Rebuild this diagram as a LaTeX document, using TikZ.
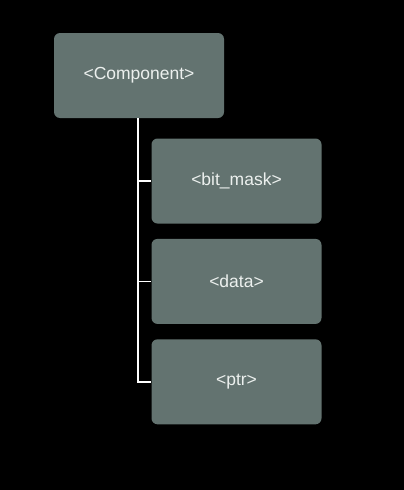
\documentclass[tikz,border=0pt]{standalone}
\usepackage{fontspec}
\setmainfont{Liberation Sans}
\usepackage{tikz}
\usetikzlibrary{positioning}

\begin{document}
\begin{tikzpicture}[x=1pt, y=-1pt,
    box/.style={fill={rgb,255:red,99;green,115;blue,112}, rounded corners=6pt,
      minimum width=170pt, minimum height=85pt, inner sep=0pt,
      text={rgb,255:red,236;green,240;blue,238}, font=\fontsize{17.5}{19}\selectfont},
    link/.style={draw=white, line width=1.5pt},
    node distance=15pt]
        % Background
        \fill[black] (0,0) rectangle (404,490);
        \useasboundingbox (0,0) rectangle (404,490);

        % Parent
        \node[box] (comp) at (139,75.5) {<Component>};

        % Fields
        \node[box] (bitmask) at (236.5,181) {<bit\_mask>};
        \node[box, below=of bitmask] (data) {<data>};
        \node[box, below=of data] (ptr) {<ptr>};

        % Tree lines
        \draw[link] ([xshift=-1pt]comp.south) |- (ptr.west);
        \draw[link] ([xshift=-1pt]comp.south |- bitmask.west) -- (bitmask.west);
        \draw[link] ([xshift=-1pt]comp.south |- data.west) -- (data.west);
      \end{tikzpicture}
\end{document}
